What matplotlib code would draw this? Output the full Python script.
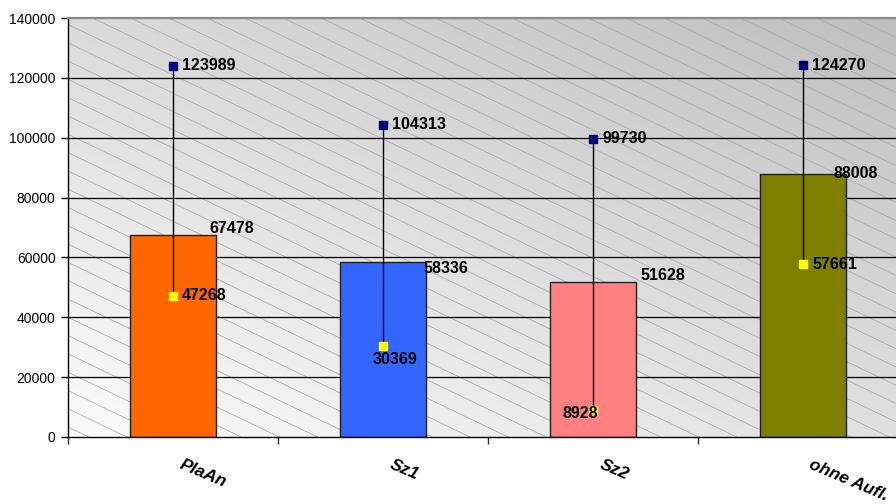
import numpy as np
import matplotlib
matplotlib.use("Agg")
import matplotlib.pyplot as plt

plt.rcParams['font.family'] = ['Liberation Sans', 'DejaVu Sans']

# Chart data
categories = ["PlaAn", "Sz1", "Sz2", "ohne Aufl."]
bar_values = [67478, 58336, 51628, 88008]
max_values = [123989, 104313, 99730, 124270]
min_values = [47268, 30369, 8928, 57661]
bar_colors = ["#FF6600", "#3366FF", "#FF8080", "#808000"]

# Label offsets in pixels (dx, dy) relative to the anchor point
bar_label_offsets = [(36, 7), (40, -6), (47, 7), (30, 0)]
max_label_offsets = [(9, 0), (9, 0), (9, 0), (9, 0)]
min_label_offsets = [(9, 0), (-10, -13), (-31, -3), (9, 0)]

W, H = 896, 504
fig = plt.figure(figsize=(W / 100, H / 100), dpi=100)
ax_l, ax_b, ax_w, ax_h = 68, 504 - 437, 840, 419
ax = fig.add_axes([ax_l / W, ax_b / H, ax_w / W, ax_h / H])

x = np.arange(len(categories))
ax.set_xlim(-0.5, len(categories) - 0.5)
ax.set_ylim(0, 140000)

# Diagonal grey gradient background
gx, gy = np.meshgrid(np.linspace(0, 1, 300), np.linspace(0, 1, 200))
grad = 0.985 - 0.13 * gy - 0.11 * gx
ax.imshow(grad, extent=[0, 1, 0, 1], origin="lower", transform=ax.transAxes,
          cmap="gray", vmin=0, vmax=1, aspect="auto", zorder=0,
          interpolation="bilinear")

# Wide downward-diagonal hatch over the plot area
slope_px = 0.48
spacing_px = 18.3
slope_ax = slope_px * ax_w / ax_h
step = spacing_px / ax_h
for c in np.arange(-0.02, 1 + slope_ax + step, step):
    ax.plot([0, 1], [c, c - slope_ax], transform=ax.transAxes,
            color="#aaaaaa", lw=0.55, zorder=0.5, clip_on=True)

# Horizontal gridlines
yt = np.arange(0, 140001, 20000)
for v in yt[1:-1]:
    ax.axhline(v, color="black", lw=0.9, zorder=1)

ax.set_yticks(yt)
ax.set_yticklabels([str(v) for v in yt], fontsize=10)
ax.tick_params(axis="y", direction="out", length=5, width=1, pad=4, colors="black")
ax.set_xticks(np.arange(-0.5, len(categories), 1.0))
ax.set_xticklabels([])
ax.tick_params(axis="x", direction="out", length=5, width=1, color="#303030")

for s in ["left", "bottom"]:
    ax.spines[s].set_color("black")
    ax.spines[s].set_linewidth(1)
ax.spines["top"].set_color("#8a8a8a")
ax.spines["top"].set_linewidth(1.6)
ax.spines["right"].set_visible(False)

# Bars
ax.bar(x, bar_values, width=0.405, color=bar_colors, edgecolor="#202020",
       linewidth=1, zorder=2)

# High-low lines with markers
for i in x:
    ax.plot([i, i], [min_values[i], max_values[i]], color="black", lw=1, zorder=3)
ax.plot(x, max_values, ls="none", marker="s", ms=6, color="#000080",
        mec="#000080", zorder=4)
ax.plot(x, min_values, ls="none", marker="s", ms=6, color="#FFFF00",
        mec="#FFFF00", zorder=4)

lab_kw = dict(textcoords="offset pixels", fontsize=11.5, fontweight="bold",
              ha="left", va="center", zorder=5, color="black")
for i in x:
    ax.annotate(str(bar_values[i]), (i, bar_values[i]),
                xytext=bar_label_offsets[i], **lab_kw)
    ax.annotate(str(max_values[i]), (i, max_values[i]),
                xytext=max_label_offsets[i], **lab_kw)
    ax.annotate(str(min_values[i]), (i, min_values[i]),
                xytext=min_label_offsets[i], **lab_kw)

# Rotated category labels below the axis
for i, name in enumerate(categories):
    ax.annotate(name, (i, 0), xytext=(10, -20), textcoords="offset pixels",
                rotation=-23, rotation_mode="anchor", ha="left", va="top",
                fontsize=12.5, fontweight="bold", fontstyle="italic",
                annotation_clip=False)

fig.savefig("out.png", dpi=100)
